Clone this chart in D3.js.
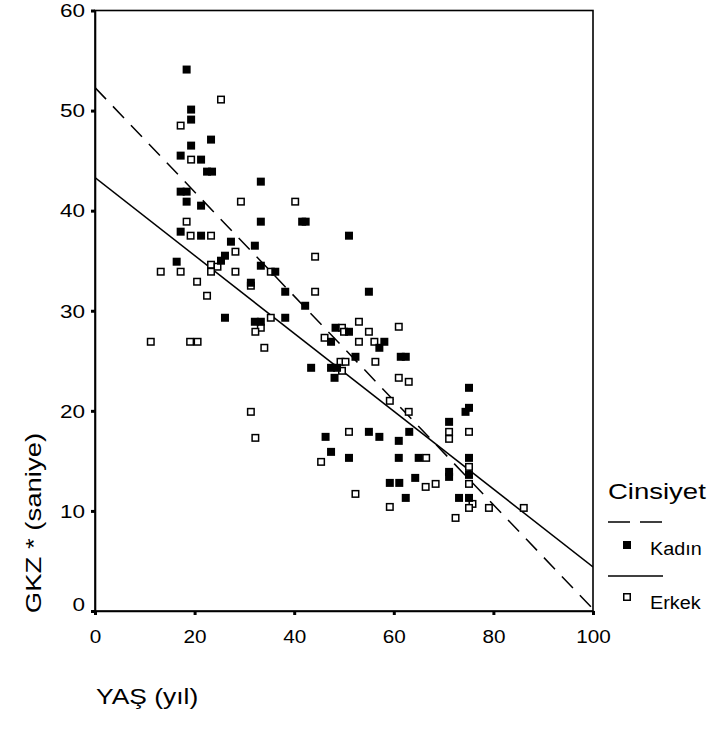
<!DOCTYPE html>
<html lang="tr">
<head>
<meta charset="UTF-8">
<script src="https://d3js.org/d3.v7.min.js"></script>
<style>
  body { margin: 0; background: #fff; }
  text { font-family: "Liberation Sans", Arial, sans-serif; fill: #000; }
  .axis path, .axis line { stroke: #000; }
</style>
</head>
<body>
<div id="chart"></div>
<script>
// Kadın (filled squares): age, GKZ seconds
const kadinAge = [18.4, 19.3, 19.3, 23.3, 19.3, 17.2, 21.3, 22.5, 23.5, 33.3, 17.2, 18.4, 18.4, 21.3, 33.3, 41.6, 42.3, 17.2, 21.3, 51.0,
  27.3, 32.1, 26.1, 25.3, 16.4, 33.3, 36.2, 31.3, 38.2, 55.0, 42.2, 26.1, 38.2, 32.1, 33.3, 48.3, 51.0, 47.4, 58.1, 57.1,
  52.3, 61.4, 62.4, 43.4, 47.4, 48.6, 48.1, 75.1, 75.1, 74.4, 71.1, 63.1, 55.0, 46.3, 57.1, 61.0, 47.4, 51.0, 61.0, 65.0,
  75.1, 75.1, 71.1, 71.1, 64.3, 59.2, 61.1, 62.4, 73.1, 75.1];
const kadinGkz = [54.1, 50.1, 49.1, 47.1, 46.5, 45.5, 45.1, 43.9, 43.9, 42.9, 41.9, 41.9, 40.9, 40.5, 38.9, 38.9, 38.9, 37.9, 37.5, 37.5,
  36.9, 36.5, 35.5, 35.0, 34.9, 34.5, 33.9, 32.8, 31.9, 31.9, 30.5, 29.3, 29.3, 28.9, 28.9, 28.3, 27.9, 26.9, 26.9, 26.3,
  25.4, 25.4, 25.4, 24.3, 24.3, 24.3, 23.3, 22.3, 20.3, 19.9, 18.9, 17.9, 17.9, 17.4, 17.4, 17.0, 15.9, 15.3, 15.3, 15.3,
  15.3, 13.6, 13.9, 13.4, 13.3, 12.8, 12.8, 11.3, 11.3, 11.3];

// Erkek (open squares)
const erkekAge = [25.3, 17.2, 19.3, 29.3, 40.2, 18.4, 19.2, 23.3, 28.2, 44.2, 23.3, 24.6, 13.2, 17.2, 23.3, 28.2, 35.3, 20.5, 31.3, 44.2,
  22.5, 35.3, 53.0, 33.3, 49.6, 61.0, 32.2, 50.0, 55.0, 46.1, 11.2, 19.1, 20.6, 53.0, 56.1, 34.0, 56.3, 49.3, 50.3, 49.6,
  61.0, 63.0, 59.2, 63.0, 31.3, 32.2, 51.0, 71.1, 71.1, 75.1, 66.5, 45.4, 75.1, 75.1, 66.4, 68.4, 52.3, 75.8, 75.1, 79.1,
  86.1, 59.2, 72.4];
const erkekGkz = [51.1, 48.5, 45.1, 40.9, 40.9, 38.9, 37.5, 37.5, 35.9, 35.4, 34.6, 34.4, 33.9, 33.9, 33.9, 33.9, 33.9, 32.9, 32.5, 31.9,
  31.5, 29.3, 28.9, 28.3, 28.3, 28.4, 27.9, 27.9, 27.9, 27.3, 26.9, 26.9, 26.9, 26.9, 26.9, 26.3, 24.9, 24.9, 24.9, 24.0,
  23.3, 22.9, 21.0, 19.9, 19.9, 17.3, 17.9, 17.9, 17.2, 17.9, 15.3, 14.9, 14.4, 12.7, 12.4, 12.7, 11.7, 10.7, 10.3, 10.3,
  10.3, 10.4, 9.3];

// fit lines: [intercept, slope]
const fitKadin = [52.3, -0.521];
const fitErkek = [43.3, -0.389];

const xTicks = [0, 20, 40, 60, 80, 100];
const yTicks = [0, 10, 20, 30, 40, 50, 60];
const legendLabels = ["Kadın", "Erkek"];

const width = 711, height = 730;
const pLeft = 95, pRight = 593, pTop = 10.5, pBottom = 611;

const svg = d3.select("#chart").append("svg")
  .attr("width", width)
  .attr("height", height);

const x = d3.scaleLinear().domain([0, 100]).range([pLeft, pRight]);
const y = d3.scaleLinear().domain([0, 60]).range([pBottom, pTop]);

// stretch text horizontally a bit, the SPSS export looks wider than Arial
function stretch(sel, k) {
  sel.each(function () {
    const w = this.getComputedTextLength();
    d3.select(this).attr("textLength", w * k).attr("lengthAdjust", "spacingAndGlyphs");
  });
}

svg.append("defs").append("clipPath").attr("id", "plot")
  .append("rect")
  .attr("x", pLeft).attr("y", pTop)
  .attr("width", pRight - pLeft).attr("height", pBottom - pTop);

// frame
svg.append("rect")
  .attr("x", pLeft).attr("y", pTop)
  .attr("width", pRight - pLeft).attr("height", pBottom - pTop)
  .attr("fill", "none").attr("stroke", "#000").attr("stroke-width", 1.6);

// axes
const yAxis = svg.append("g").attr("class", "axis")
  .attr("transform", `translate(${pLeft},0)`)
  .call(d3.axisLeft(y).tickValues(yTicks).tickSize(4).tickPadding(6));
yAxis.select(".domain").attr("stroke-width", 1.6);
yAxis.selectAll(".tick line").attr("stroke-width", 3);
yAxis.selectAll(".tick text")
  .attr("font-size", 18)
  .attr("dy", (d) => d === 0 ? "-0.05em" : "0.35em")
  .call(stretch, 1.25);

const xAxis = svg.append("g").attr("class", "axis")
  .attr("transform", `translate(0,${pBottom})`)
  .call(d3.axisBottom(x).tickValues(xTicks).tickSize(4).tickPadding(15));
xAxis.select(".domain").attr("stroke-width", 1.6);
xAxis.selectAll(".tick line").attr("stroke-width", 3);
xAxis.selectAll(".tick text")
  .attr("font-size", 18)
  .call(stretch, 1.15);

// axis titles
svg.append("text")
  .attr("x", 96).attr("y", 704)
  .attr("font-size", 22)
  .text("YAŞ (yıl)")
  .call(stretch, 1.2);

svg.append("text")
  .attr("transform", "translate(41,523) rotate(-90)")
  .attr("text-anchor", "middle")
  .attr("font-size", 22)
  .text("GKZ * (saniye)")
  .call(stretch, 1.25);

// fit lines
const plot = svg.append("g").attr("clip-path", "url(#plot)");
const fitLine = (f) => d3.line()([[x(0), y(f[0])], [x(100), y(f[0] + f[1] * 100)]]);

plot.append("path")
  .attr("d", fitLine(fitKadin))
  .attr("stroke", "#000").attr("stroke-width", 1.5)
  .attr("stroke-dasharray", "16,10").attr("fill", "none");

plot.append("path")
  .attr("d", fitLine(fitErkek))
  .attr("stroke", "#000").attr("stroke-width", 1.5).attr("fill", "none");

// points
const s = 8;
svg.append("g").selectAll("rect")
  .data(erkekAge.map((a, i) => [a, erkekGkz[i]]))
  .join("rect")
  .attr("x", (d) => x(d[0]) - s / 2 + 0.75)
  .attr("y", (d) => y(d[1]) - s / 2 + 0.75)
  .attr("width", s - 1.5).attr("height", s - 1.5)
  .attr("fill", "#fff").attr("stroke", "#000").attr("stroke-width", 1.5);

svg.append("g").selectAll("rect")
  .data(kadinAge.map((a, i) => [a, kadinGkz[i]]))
  .join("rect")
  .attr("x", (d) => x(d[0]) - s / 2)
  .attr("y", (d) => y(d[1]) - s / 2)
  .attr("width", s).attr("height", s)
  .attr("fill", "#000");

// legend
const lg = svg.append("g");
lg.append("text")
  .attr("x", 608).attr("y", 499)
  .attr("font-size", 22)
  .text("Cinsiyet")
  .call(stretch, 1.25);

lg.append("line")
  .attr("x1", 608).attr("x2", 663).attr("y1", 522).attr("y2", 522)
  .attr("stroke", "#000").attr("stroke-width", 1.5)
  .attr("stroke-dasharray", "22,10");
lg.append("rect")
  .attr("x", 623).attr("y", 541).attr("width", 8).attr("height", 8)
  .attr("fill", "#000");
lg.append("text")
  .attr("x", 650).attr("y", 555)
  .attr("font-size", 18)
  .text(legendLabels[0])
  .call(stretch, 1.1);

lg.append("line")
  .attr("x1", 608).attr("x2", 663).attr("y1", 576).attr("y2", 576)
  .attr("stroke", "#000").attr("stroke-width", 1.5);
lg.append("rect")
  .attr("x", 623.75).attr("y", 593.75).attr("width", 6.5).attr("height", 6.5)
  .attr("fill", "#fff").attr("stroke", "#000").attr("stroke-width", 1.5);
lg.append("text")
  .attr("x", 650).attr("y", 609)
  .attr("font-size", 18)
  .text(legendLabels[1])
  .call(stretch, 1.1);
</script>
</body>
</html>
